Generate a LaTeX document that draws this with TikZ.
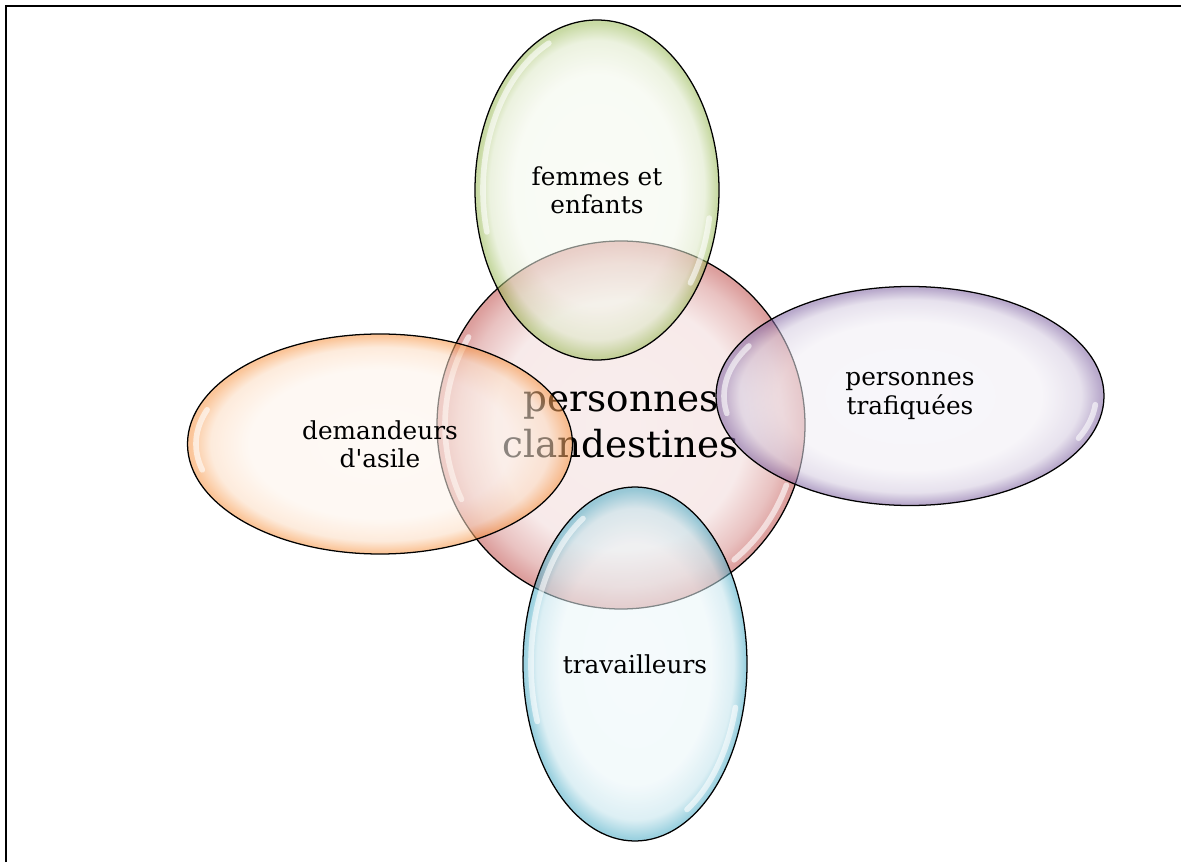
\documentclass[tikz,border=0pt]{standalone}
\usepackage{fontspec}
\setmainfont{DejaVu Serif}
\usepackage{xcolor}
\usetikzlibrary{calc, shapes.geometric}
\definecolor{accentred}{HTML}{C0504D}
\definecolor{accentgreen}{HTML}{9BBB59}
\definecolor{accentpurple}{HTML}{8064A2}
\definecolor{accentorange}{HTML}{F79646}
\definecolor{accentblue}{HTML}{4BACC6}
% glossy radial fill: pale centre, darker rim
\newcommand{\glossy}[3]{%
  \pgfdeclareradialshading{#1}{\pgfpoint{0bp}{0bp}}{%
    color(0bp)=(#2!10!white); color(17bp)=(#2!12!white);
    color(22bp)=(#2!35!white); color(24.6bp)=(#2!#3!white);
    color(25bp)=(#2!#3!white); color(50bp)=(#2!#3!white)}}
\glossy{glossred}{accentred}{55}
\glossy{glossgreen}{accentgreen}{100}
\glossy{glosspurple}{accentpurple}{100}
\glossy{glossorange}{accentorange}{100}
\glossy{glossblue}{accentblue}{100}
% white highlight arc inside a blob
\newcommand{\shine}[5]{%
  \draw[white, line width=4pt, opacity=0.6, line cap=round]
    ($(#1)+({#2*cos(#4)},{#3*sin(#4)})$) arc[start angle=#4, end angle=#5, x radius=#2, y radius=#3];}

\begin{document}
\begin{tikzpicture}[
    blob/.style={ellipse, draw, line width=0.9pt, shade, fill opacity=0.55, text opacity=1,
      inner sep=0pt, align=center, font=\fontsize{17.6}{20}\selectfont}]
    \useasboundingbox (0,0) rectangle (29.55,21.55);
    \draw[line width=1.5pt, line join=miter] (0.14,0) -- (0.14,21.41) -- (29.52,21.41);

    % centre
    \node[circle, draw, line width=0.9pt, shade, shading=glossred, minimum size=9.2cm, inner sep=0pt,
      align=center, font=\fontsize{26.5}{32.5}\selectfont] (clan) at (15.525,10.925) {personnes\\clandestines};
    \shine{clan}{4.4}{4.4}{150}{205}
    \shine{clan}{4.4}{4.4}{-20}{-50}

    \node[blob, shading=glossgreen, minimum width=6.1cm, minimum height=8.5cm] (femmes) at (14.925,16.8) {femmes et\\enfants};
    \shine{femmes}{2.85}{4.05}{115}{195}
    \shine{femmes}{2.85}{4.05}{-10}{-35}

    \node[blob, shading=glosspurple, minimum width=9.7cm, minimum height=5.475cm] (trafic) at (22.75,11.65) {personnes\\trafiquées};
    \shine{trafic}{4.65}{2.5}{150}{190}
    \shine{trafic}{4.65}{2.5}{-5}{-25}

    \node[blob, shading=glossorange, minimum width=9.625cm, minimum height=5.5cm] (asile) at (9.5,10.45) {demandeurs\\d\textquotesingle asile};
    \shine{asile}{4.6}{2.5}{160}{195}

    \node[blob, shading=glossblue, minimum width=5.6cm, minimum height=8.85cm] (travail) at (15.875,4.95) {travailleurs};
    \shine{travail}{2.6}{4.2}{120}{200}
    \shine{travail}{2.6}{4.2}{-15}{-60}
\end{tikzpicture}
\end{document}
